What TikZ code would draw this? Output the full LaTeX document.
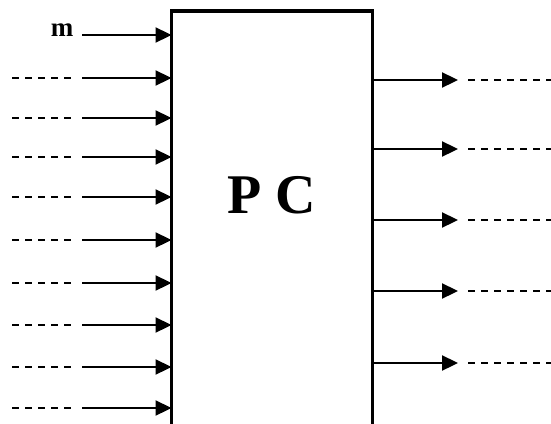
\documentclass[tikz,border=0pt]{standalone}
\usepackage{fontspec}
\setmainfont{Liberation Serif}
\usetikzlibrary{arrows.meta}
\begin{document}
\begin{tikzpicture}[x=1pt,y=-1pt,
  sig/.style={line width=2.3pt,-{Triangle[length=16pt,width=15pt]}},
  dsh/.style={line width=1.8pt,dash pattern=on 7pt off 6pt},
  boxline/.style={line width=3.6pt}]
\useasboundingbox (0,0) rectangle (551,423);
\node[minimum width=200.5pt, minimum height=420pt, inner sep=0pt, anchor=north west] (pc) at (171.5,11) {};
\draw[boxline] (pc.south west) -- (pc.north west) -- (pc.north east) -- (pc.south east);
\node[font=\bfseries\fontsize{56}{60}\selectfont, inner sep=0pt] (lbl) at (271.5,195) {P C};
% labelled input
\node[font=\bfseries\fontsize{27}{30}\selectfont, inner sep=0pt, anchor=base] (m) at (62,36) {m};
\coordinate (in1) at (82,35);
\draw[sig] (in1) -- (pc.west |- in1);
% other inputs
\foreach \yy [count=\i from 2] in {78,118,157,197,240,283,325,367,408} {
  \coordinate (in\i) at (82,\yy);
  \coordinate (ds\i) at (12,\yy);
  \coordinate (de\i) at (72,\yy);
  \draw[dsh] (ds\i) -- (de\i);
  \draw[sig] (in\i) -- (pc.west |- in\i);
}
% outputs
\foreach \yy [count=\i] in {80,149,220,291,363} {
  \coordinate (ot\i) at (458,\yy);
  \coordinate (os\i) at (468,\yy);
  \coordinate (oe\i) at (551,\yy);
  \draw[sig] (pc.east |- ot\i) -- (ot\i);
  \draw[dsh] (os\i) -- (oe\i);
}
\end{tikzpicture}
\end{document}
